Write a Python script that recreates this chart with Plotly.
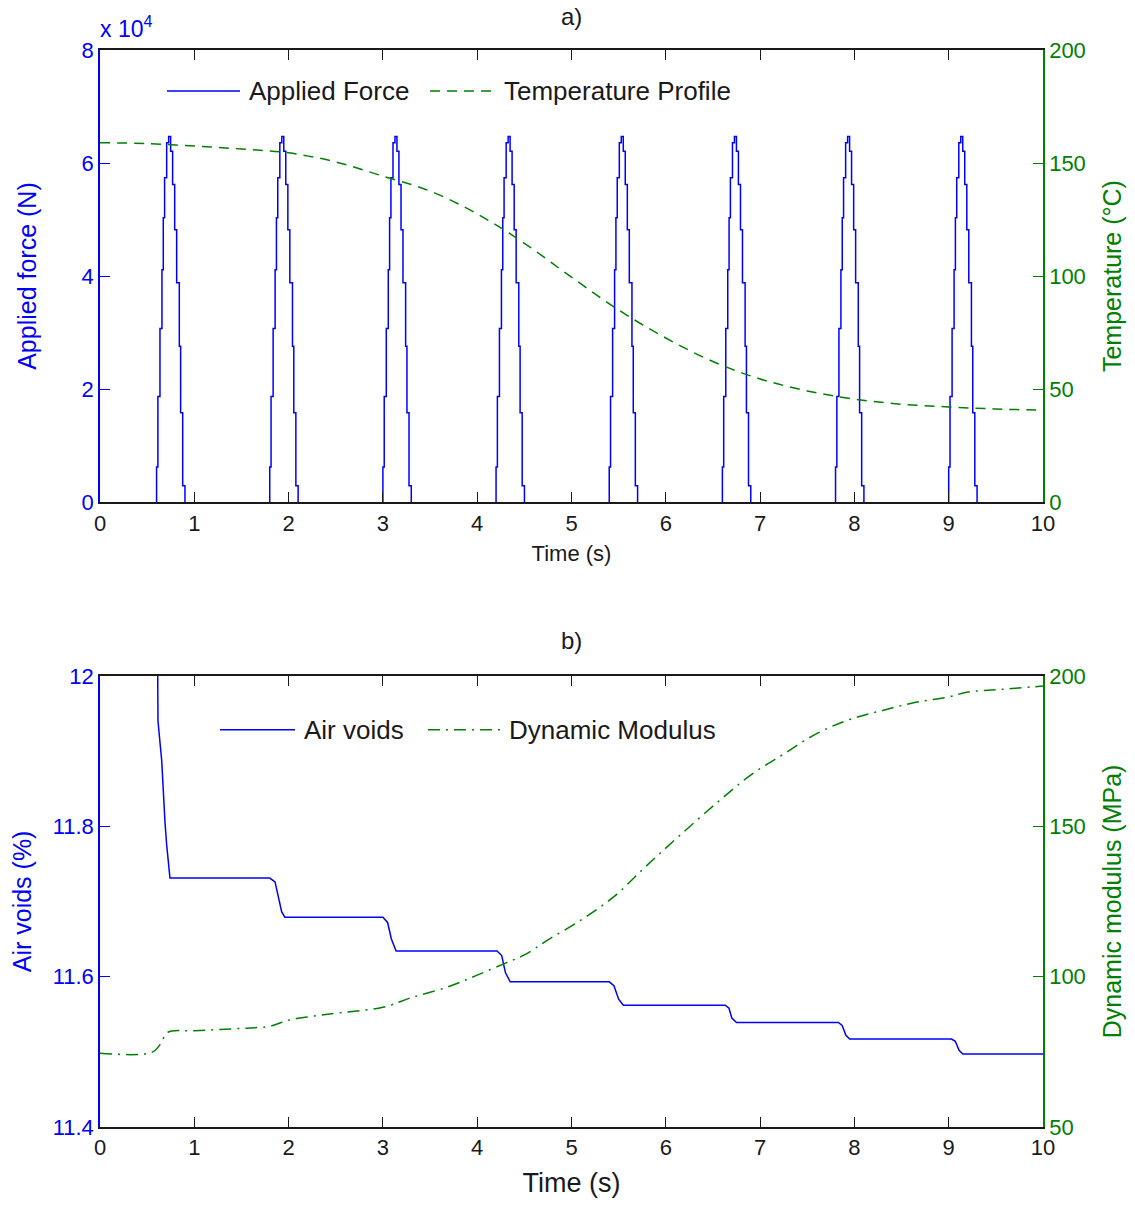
import plotly.graph_objects as go
from plotly.subplots import make_subplots

# ---------------- data ----------------
# Loading pulses: start time of each pulse (s)
PULSE_START = [0.60, 1.80, 3.00, 4.20, 5.40, 6.60, 7.80, 9.00]
# Pulse shape: time offset from pulse start (s) and held force level (x 10^4 N)
PULSE_OFFSET = [0.000, 0.014, 0.036, 0.057, 0.071, 0.085, 0.107, 0.128,
                0.149, 0.170, 0.192, 0.213, 0.241, 0.255, 0.277, 0.301]
PULSE_LEVEL = [0.62, 1.87, 3.07, 4.11, 5.03, 5.74, 6.36, 6.47,
               6.21, 5.62, 4.82, 3.88, 2.76, 1.58, 0.29, 0.0]

# Temperature profile (deg C)
TEMP_TIME = [0, 0.5, 1.0, 1.5, 2.0, 2.5, 3.0, 3.5, 4.0, 4.5, 5.0,
             5.5, 6.0, 6.5, 7.0, 7.5, 8.0, 8.5, 9.0, 9.5, 10.0]
TEMP_VALUE = [159.0, 158.6, 157.5, 156.2, 154.5, 150.5, 144.2, 137.6, 127.5,
              114.5, 99.5, 85.0, 72.6, 62.2, 54.5, 49.2, 45.6, 43.3, 42.1,
              41.2, 40.7]

# Air voids (%)
AV_TIME = [0, 0.60, 0.615, 0.654, 0.689, 0.707, 0.742,
           1.80, 1.856, 1.89, 1.927, 1.96,
           3.00, 3.05, 3.09, 3.14,
           4.21, 4.26, 4.30, 4.35,
           5.40, 5.45, 5.50, 5.55,
           6.63, 6.67, 6.70, 6.75,
           7.83, 7.87, 7.91, 7.95,
           9.03, 9.07, 9.11, 9.15, 10.0]
AV_VALUE = [12.25, 12.25, 11.94, 11.888, 11.806, 11.775, 11.731,
            11.731, 11.726, 11.708, 11.686, 11.679,
            11.679, 11.672, 11.650, 11.634,
            11.634, 11.628, 11.605, 11.593,
            11.593, 11.588, 11.570, 11.562,
            11.562, 11.558, 11.545, 11.539,
            11.539, 11.535, 11.522, 11.517,
            11.517, 11.514, 11.502, 11.497, 11.497]

# Dynamic modulus (MPa)
DM_TIME = [0, 0.55, 0.64, 0.72, 1.0, 1.5, 1.8, 2.0, 2.25, 2.55, 3.0, 3.3,
           3.7, 4.0, 4.3, 4.5, 4.75, 5.1, 5.45, 5.8, 6.15, 6.55, 6.9, 7.25,
           7.6, 7.95, 8.3, 8.65, 9.0, 9.2, 9.55, 10.0]
DM_VALUE = [74.5, 74.8, 77.5, 81.5, 82.0, 82.8, 83.5, 85.5, 86.8, 88.0, 89.8,
            93.0, 96.7, 100.5, 104.5, 107.2, 112.2, 118.8, 126.6, 137.0,
            147.0, 158.0, 167.0, 174.0, 180.8, 185.5, 188.5, 191.2, 193.0,
            194.6, 195.5, 196.6]

FORCE_TICKS = [0, 2, 4, 6, 8]
TEMP_TICKS = [0, 50, 100, 150, 200]
AV_TICKS = [11.4, 11.6, 11.8, 12.0]
DM_TICKS = [50, 100, 150, 200]
TIME_TICKS = list(range(0, 11))

# ---------------- build force series from pulses ----------------
# Between pulses the force rests on the zero line (hidden by the axis),
# so each pulse is drawn as its own segment.
force_t = []
force_v = []
for s in PULSE_START:
    force_t.append(s)
    force_v.append(0.0)
    for dt, lv in zip(PULSE_OFFSET, PULSE_LEVEL):
        force_t.append(s + dt)
        force_v.append(lv * 1e4)
    force_t.append(None)
    force_v.append(None)

BLUE = "#0000FF"
GREEN = "#008000"
BLACK = "#1a1a1a"
FONT = "Liberation Sans, Arial, sans-serif"

fig = make_subplots(rows=2, cols=1,
                    specs=[[{"secondary_y": True}], [{"secondary_y": True}]])

fig.add_trace(go.Scatter(x=force_t, y=force_v, mode="lines", line_shape="hv",
                         name="Applied Force", showlegend=False,
                         connectgaps=False,
                         line=dict(color=BLUE, width=1.5)),
              row=1, col=1, secondary_y=False)
fig.add_trace(go.Scatter(x=TEMP_TIME, y=TEMP_VALUE, mode="lines",
                         line_shape="spline", name="Temperature Profile",
                         showlegend=False,
                         line=dict(color=GREEN, width=1.5, dash="10px,7px")),
              row=1, col=1, secondary_y=True)
fig.add_trace(go.Scatter(x=AV_TIME, y=AV_VALUE, mode="lines", name="Air voids",
                         showlegend=False, line=dict(color=BLUE, width=1.5)),
              row=2, col=1, secondary_y=False)
fig.add_trace(go.Scatter(x=DM_TIME, y=DM_VALUE, mode="lines",
                         line_shape="spline", name="Dynamic Modulus",
                         showlegend=False,
                         line=dict(color=GREEN, width=1.5,
                                   dash="12px,6px,2px,6px")),
              row=2, col=1, secondary_y=True)

tick_font = dict(family=FONT, size=22)
title_font = dict(family=FONT, size=25)

xcommon = dict(range=[0, 10], tickvals=TIME_TICKS, ticks="inside", ticklen=10,
               tickcolor=BLACK, showline=True, linecolor=BLACK, linewidth=2,
               mirror="ticks", showgrid=False, zeroline=False,
               tickfont=dict(family=FONT, size=22, color=BLACK))

fig.update_layout(
    width=1135, height=1205,
    margin=dict(l=100, r=92, t=50, b=76),
    paper_bgcolor="white", plot_bgcolor="white",
    showlegend=False,
    xaxis=dict(xcommon, domain=[0, 1], anchor="y",
               title=dict(text="Time (s)", standoff=11,
                          font=dict(family=FONT, size=22, color=BLACK))),
    xaxis2=dict(xcommon, domain=[0, 1], anchor="y3",
                title=dict(text="Time (s)", standoff=14,
                           font=dict(family=FONT, size=27, color=BLACK))),
    yaxis=dict(domain=[0.5802, 1.0], range=[0, 80000],
               tickvals=[v * 1e4 for v in FORCE_TICKS],
               ticktext=[str(v) for v in FORCE_TICKS],
               ticks="inside", ticklen=10, tickcolor=BLUE, showline=True,
               linecolor=BLUE, linewidth=1.5, showgrid=False, zeroline=False,
               tickfont=dict(tick_font, color=BLUE),
               title=dict(text="Applied force (N)", standoff=38,
                          font=dict(title_font, color=BLUE))),
    yaxis2=dict(range=[0, 200], tickvals=TEMP_TICKS, ticks="inside",
                ticklen=10, tickcolor=GREEN, showline=True, linecolor=GREEN,
                linewidth=1.5, showgrid=False, zeroline=False,
                tickfont=dict(tick_font, color=GREEN),
                title=dict(text="Temperature (°C)", standoff=19,
                           font=dict(title_font, color=GREEN))),
    yaxis3=dict(domain=[0.0, 0.4189], range=[11.4, 12.0], tickvals=AV_TICKS,
                ticktext=["11.4", "11.6", "11.8", "12"],
                ticks="inside", ticklen=10, tickcolor=BLUE, showline=True,
                linecolor=BLUE, linewidth=1.5, showgrid=False, zeroline=False,
                tickfont=dict(tick_font, color=BLUE),
                title=dict(text="Air voids (%)", standoff=14,
                           font=dict(title_font, color=BLUE))),
    yaxis4=dict(range=[50, 200], tickvals=DM_TICKS, ticks="inside",
                ticklen=10, tickcolor=GREEN, showline=True, linecolor=GREEN,
                linewidth=1.5, showgrid=False, zeroline=False,
                tickfont=dict(tick_font, color=GREEN),
                title=dict(text="Dynamic modulus (MPa)", standoff=19,
                           font=dict(title_font, color=GREEN))),
)

# Panel titles and the exponent label of the force axis
fig.add_annotation(text="a)", xref="x domain", yref="y domain", x=0.5, y=1.0,
                   yshift=18, showarrow=False, yanchor="bottom",
                   font=dict(family=FONT, size=24, color=BLACK))
fig.add_annotation(text="b)", xref="x2 domain", yref="y3 domain", x=0.5,
                   y=1.0, yshift=20, showarrow=False, yanchor="bottom",
                   font=dict(family=FONT, size=24, color=BLACK))
fig.add_annotation(text="x 10<sup>4</sup>", xref="x domain", yref="y domain",
                   x=0.0, y=1.0, yshift=6, xshift=-2, showarrow=False,
                   xanchor="left", yanchor="bottom",
                   font=dict(family=FONT, size=23, color=BLUE))

# In-axes legends (long line samples)
def legend_entry(xref, yref, x0, x1, y, color, dash, label):
    fig.add_shape(type="line", xref=xref, yref=yref, x0=x0, x1=x1, y0=y, y1=y,
                  line=dict(color=color, width=1.5, dash=dash))
    fig.add_annotation(text=label, xref=xref, yref=yref, x=x1 + 0.007, y=y,
                       showarrow=False, xanchor="left", yanchor="middle",
                       font=dict(family=FONT, size=26, color=BLACK))

legend_entry("x domain", "y domain", 0.071, 0.1485, 0.9095, BLUE, "solid",
             "Applied Force")
legend_entry("x domain", "y domain", 0.350, 0.419, 0.9095, GREEN, "10px,7px",
             "Temperature Profile")
legend_entry("x2 domain", "y3 domain", 0.1273, 0.2068, 0.8805, BLUE, "solid",
             "Air voids")
legend_entry("x2 domain", "y3 domain", 0.3478, 0.4242, 0.8805, GREEN,
             "12px,6px,2px,6px", "Dynamic Modulus")

fig.write_html("out.html")
